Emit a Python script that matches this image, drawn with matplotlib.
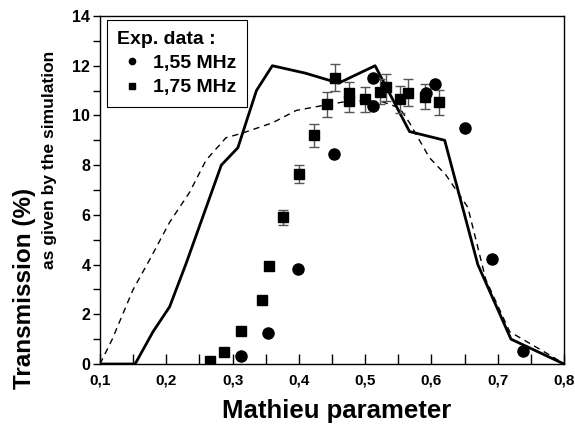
import matplotlib
matplotlib.use("Agg")
import matplotlib.pyplot as plt
from matplotlib.lines import Line2D
from matplotlib.ticker import MultipleLocator, FuncFormatter

plt.rcParams["font.family"] = ["Liberation Sans", "DejaVu Sans"]

# simulated transmission, solid and dashed curves
sim_solid_x = [0.1, 0.153, 0.18, 0.205, 0.23, 0.283, 0.308, 0.336, 0.36, 0.41,
               0.46, 0.515, 0.567, 0.62, 0.67, 0.72, 0.8]
sim_solid_y = [0, 0, 1.3, 2.3, 4.05, 8.0, 8.7, 11.0, 12.0, 11.7,
               11.3, 12.0, 9.35, 9.0, 4.0, 1.0, 0]

sim_dash_x = [0.1, 0.118, 0.15, 0.175, 0.205, 0.235, 0.26, 0.29, 0.316, 0.36,
              0.396, 0.436, 0.48, 0.526, 0.552, 0.567, 0.597, 0.622, 0.655,
              0.682, 0.718, 0.783, 0.8]
sim_dash_y = [0, 0.97, 3.0, 4.2, 5.7, 6.9, 8.2, 9.1, 9.3, 9.7,
              10.2, 10.4, 10.6, 10.55, 10.3, 9.7, 8.3, 7.6, 6.3,
              3.4, 1.3, 0.29, 0]

# experimental data, 1,55 MHz
c155_x = [0.312, 0.3535, 0.399, 0.4525, 0.512, 0.512, 0.592, 0.606, 0.651, 0.692, 0.7375]
c155_y = [0.32, 1.26, 3.82, 8.43, 11.5, 10.39, 10.91, 11.28, 9.5, 4.21, 0.54]

# experimental data, 1,75 MHz (with error bars)
s175_x = [0.266, 0.287, 0.312, 0.344, 0.355, 0.376, 0.400, 0.423, 0.443, 0.454,
          0.475, 0.475, 0.500, 0.522, 0.532, 0.553, 0.564, 0.590, 0.611]
s175_y = [0.13, 0.47, 1.34, 2.57, 3.94, 5.9, 7.65, 9.2, 10.45, 11.52,
          10.9, 10.6, 10.65, 10.95, 11.13, 10.65, 10.91, 10.75, 10.53]
s175_err = [0, 0, 0, 0, 0, 0.3, 0.37, 0.47, 0.5, 0.55,
            0.45, 0.45, 0.5, 0.5, 0.55, 0.55, 0.55, 0.5, 0.5]

fig = plt.figure(figsize=(5.75, 4.3), dpi=100)
ax = fig.add_axes([100 / 575, 1 - 364 / 430, 464 / 575, 348 / 430])

ax.plot(sim_dash_x, sim_dash_y, color="black", lw=1.0, dashes=(4.5, 3.5), zorder=2)
ax.plot(sim_solid_x, sim_solid_y, color="black", lw=2.0, zorder=3)

ax.errorbar(s175_x, s175_y, yerr=s175_err, fmt="none", ecolor="#555555",
            elinewidth=1.0, capsize=3.5, capthick=1.0, zorder=4)
ax.plot(s175_x, s175_y, ls="none", marker="s", ms=7, color="black", zorder=5)
ax.plot(c155_x, c155_y, ls="none", marker="o", ms=8, color="black", zorder=5)

ax.set_xlim(0.1, 0.8)
ax.set_ylim(0, 14)
ax.xaxis.set_major_locator(MultipleLocator(0.1))
ax.xaxis.set_minor_locator(MultipleLocator(0.05))
ax.yaxis.set_major_locator(MultipleLocator(2))
ax.yaxis.set_minor_locator(MultipleLocator(1))
ax.xaxis.set_major_formatter(FuncFormatter(lambda v, _: f"{v:.1f}".replace(".", ",")))
ax.yaxis.set_major_formatter(FuncFormatter(lambda v, _: f"{v:.0f}"))
ax.tick_params(axis="x", which="both", direction="in", length=7, width=1,
               labelsize=11, pad=7, top=False)
ax.tick_params(axis="y", which="both", direction="out", length=5, width=1,
               labelsize=11.5, pad=2, right=False)
for lab in ax.get_xticklabels() + ax.get_yticklabels():
    lab.set_fontweight("bold")
for sp in ax.spines.values():
    sp.set_linewidth(1.0)

fig.text(25 / 575, 1 - 288 / 430, "Transmission (%)", rotation=90, fontsize=17.5,
         fontweight="bold", ha="center", va="center")
fig.text(50 / 575, 1 - 160 / 430, "as given by the simulation", rotation=90,
         fontsize=12.5, fontweight="bold", ha="center", va="center")
fig.text(337 / 575, 1 - 411 / 430, "Mathieu parameter", fontsize=18.5,
         fontweight="bold", ha="center", va="center")

# legend handles use smaller markers than the plotted points
h_ci = Line2D([], [], ls="none", marker="o", ms=4.5, color="black")
h_sq = Line2D([], [], ls="none", marker="s", ms=4, color="black")
leg = ax.legend([h_ci, h_sq], ["1,55 MHz", "1,75 MHz"], title="Exp. data :",
                loc="upper left", bbox_to_anchor=(0.0144, 0.989), fancybox=False,
                edgecolor="black", framealpha=1, handlelength=1.5,
                handletextpad=0.35, borderpad=0.55, labelspacing=0.35,
                borderaxespad=0, prop={"weight": "bold", "size": 14})
leg.get_title().set_fontweight("bold")
leg.get_title().set_fontsize(14)
leg._legend_box.align = "left"
leg._legend_box.sep = 5
leg.get_frame().set_linewidth(0.8)

fig.savefig("out.png", dpi=100)
